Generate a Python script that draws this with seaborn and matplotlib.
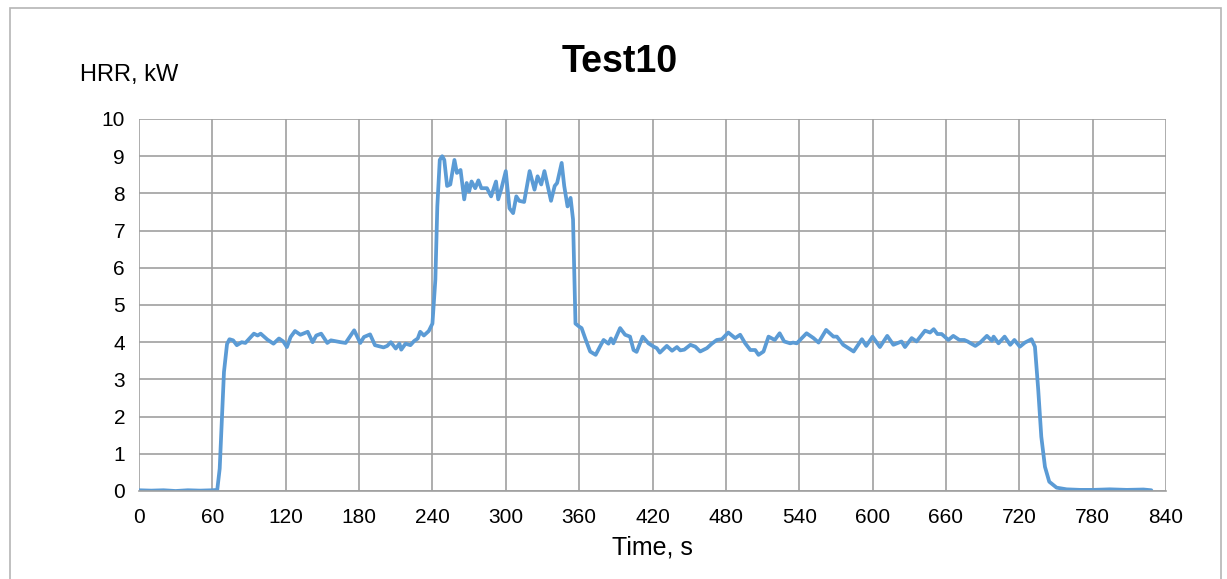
import numpy as np
import pandas as pd
import matplotlib
matplotlib.use('Agg')
import matplotlib.pyplot as plt
import seaborn as sns
from matplotlib.patches import Rectangle

# Data (time in s, heat release rate in kW)
time_s = [0, 10, 20, 30, 40, 50, 60, 64, 66, 69.5, 72, 74, 77, 80, 84, 87, 94, 97, 99.5,
          105, 110, 114.5, 118, 121, 124, 127.6, 132, 138, 142, 145, 149, 154, 157, 165,
          169, 176, 181, 184, 189, 193, 200, 203, 206, 210, 213, 214.5, 218, 222, 225,
          228, 230, 233, 237, 240, 242.4, 244, 246, 248, 249.7, 252, 254.6, 258, 260,
          263, 266, 268, 270, 272, 275, 277.6, 280, 284.6, 288, 292, 293.8, 296.5, 300,
          303, 306, 308.6, 311, 315, 319.5, 323.5, 326, 329, 331.6, 334, 337, 340, 342,
          345.7, 347.8, 350.5, 353, 355, 357, 360, 362, 365, 369, 373.5, 377, 380, 384,
          386, 388, 393.5, 397.6, 401.6, 404.5, 407, 412, 416.7, 421, 423.5, 426, 431.7,
          436, 440, 442.7, 446, 451, 455, 459, 464.5, 468.5, 472.6, 476.7, 482, 487.6,
          491.7, 495.8, 500, 504, 506.7, 510.8, 514.9, 520, 524, 527.7, 532.6, 535, 538,
          546, 551.7, 555.8, 562, 568, 570.8, 576, 584.5, 591.3, 594.8, 600, 606, 612,
          617, 623.7, 626.5, 632, 636, 642.9, 647, 650, 653, 656.5, 662, 666, 671, 675,
          677.7, 684, 688, 693.5, 697.6, 699, 703, 708, 712.6, 716, 720.5, 724.6, 730,
          732.8, 735.5, 738, 741, 744.5, 750.5, 758.7, 769.7, 780.5, 794, 808, 821.5, 828]
hrr_kw = [0.02, 0.01, 0.02, 0.0, 0.02, 0.01, 0.02, 0.03, 0.6, 3.2, 3.95, 4.08, 4.05, 3.92,
          4.0, 3.98, 4.23, 4.18, 4.23, 4.07, 3.96, 4.1, 4.02, 3.87, 4.14, 4.3, 4.2, 4.28,
          4.0, 4.18, 4.23, 3.98, 4.05, 4.0, 3.98, 4.32, 3.98, 4.14, 4.21, 3.92, 3.86, 3.9,
          4.0, 3.83, 3.96, 3.8, 3.96, 3.92, 4.03, 4.1, 4.28, 4.18, 4.3, 4.5, 5.68, 7.65,
          8.9, 9.0, 8.9, 8.2, 8.24, 8.9, 8.55, 8.63, 7.84, 8.28, 8.05, 8.32, 8.14, 8.35,
          8.14, 8.14, 7.92, 8.32, 7.84, 8.14, 8.6, 7.6, 7.47, 7.92, 7.8, 7.77, 8.6, 8.1,
          8.46, 8.24, 8.6, 8.24, 7.8, 8.2, 8.28, 8.82, 8.2, 7.65, 7.88, 7.3, 4.5, 4.42,
          4.38, 4.1, 3.75, 3.66, 3.88, 4.06, 3.96, 4.1, 3.97, 4.38, 4.2, 4.15, 3.79, 3.74,
          4.15, 3.97, 3.88, 3.84, 3.72, 3.9, 3.77, 3.87, 3.78, 3.8, 3.93, 3.88, 3.75, 3.84,
          3.96, 4.06, 4.08, 4.26, 4.11, 4.2, 3.97, 3.79, 3.79, 3.66, 3.75, 4.15, 4.06,
          4.24, 4.02, 3.97, 3.99, 3.97, 4.24, 4.11, 3.99, 4.33, 4.15, 4.15, 3.93, 3.75,
          4.08, 3.9, 4.15, 3.87, 4.17, 3.93, 4.02, 3.87, 4.11, 4.02, 4.31, 4.26, 4.35,
          4.22, 4.22, 4.06, 4.17, 4.06, 4.06, 4.02, 3.9, 3.99, 4.17, 4.04, 4.15, 3.97,
          4.15, 3.93, 4.06, 3.88, 3.99, 4.08, 3.88, 2.72, 1.46, 0.65, 0.25, 0.09, 0.045,
          0.03, 0.03, 0.045, 0.03, 0.04, 0.02]

x_ticks = list(range(0, 841, 60))
y_ticks = list(range(0, 11))

df = pd.DataFrame({'time': time_s, 'hrr': hrr_kw})

sns.set_style('white')
plt.rcParams['font.family'] = ['Liberation Sans Narrow', 'Liberation Sans', 'DejaVu Sans']
plt.rcParams['text.color'] = 'black'
plt.rcParams['axes.labelcolor'] = 'black'
plt.rcParams['xtick.color'] = 'black'
plt.rcParams['ytick.color'] = 'black'

fig = plt.figure(figsize=(12.27, 5.79), dpi=100)
ax = fig.add_axes([139 / 1227, 1 - 491 / 579, (1166 - 139) / 1227, (491 - 119) / 579])

sns.lineplot(data=df, x='time', y='hrr', ax=ax, color='#5B9BD5', linewidth=2.7,
             estimator=None, sort=False)

ax.set_xlim(0, 840)
ax.set_ylim(0, 10)
ax.set_xticks(x_ticks)
ax.set_yticks(y_ticks)
ax.grid(True, color='#a0a0a0', linewidth=1.2)
ax.set_axisbelow(True)
for side in ['top', 'right', 'left']:
    ax.spines[side].set_visible(False)
ax.spines['bottom'].set_color('#a0a0a0')
ax.spines['bottom'].set_linewidth(1.2)
ax.tick_params(axis='x', direction='out', length=6, width=1.2, color='#a0a0a0',
               labelcolor='black', labelsize=15, pad=6)
ax.tick_params(axis='y', length=0, labelsize=15, pad=10, labelcolor='black')
ax.set_xlabel('Time, s', fontsize=18, labelpad=6, color='black')
ax.set_ylabel('')

fig.text(0.5 * (556 + 683) / 1227, 1 - 62 / 579, 'Test10', ha='center', va='center',
         fontsize=27, fontweight='bold', color='black')
fig.text(80 / 1227, 1 - 75 / 579, 'HRR, kW', ha='left', va='center', fontsize=17,
         color='black')

# chart border like the spreadsheet frame
fig.patches.append(Rectangle((10 / 1227, -0.1), (1221 - 10) / 1227, 1.1 - 8 / 579,
                             transform=fig.transFigure, fill=False,
                             edgecolor='#b5b5b5', linewidth=1.2))

fig.savefig('out.png', dpi=100)
